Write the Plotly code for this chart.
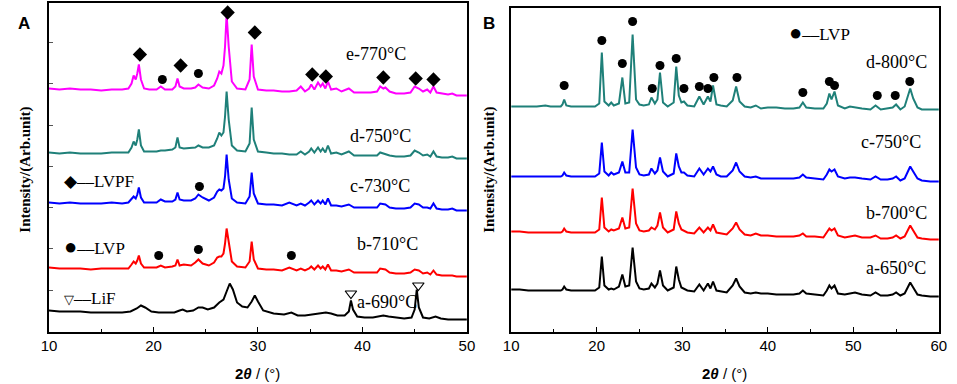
import plotly.graph_objects as go

# ---------------- Panel A data (2theta, intensity in arbitrary units) ----------------
A_X = [10, 11, 12, 13, 14, 15, 16, 17, 17.6, 17.9,
       18.1, 18.3, 18.45, 18.6, 18.8, 19.1, 19.6, 20.3, 20.7, 21.1,
       21.8, 22.1, 22.3, 22.5, 22.9, 23.6, 24.0, 24.3, 24.7, 25.3,
       25.8, 26.1, 26.3, 26.5, 26.7, 26.85, 27.0, 27.2, 27.5, 28.0,
       28.8, 29.2, 29.4, 29.6, 30.0, 30.8, 31.5, 32.3, 33.0, 33.7,
       34.1, 34.5, 34.9, 35.1, 35.4, 35.75, 36.0, 36.2, 36.45, 36.7,
       37.0, 37.5, 38.0, 38.7, 39.2, 40.0, 40.8, 41.4, 41.7, 42.0,
       42.2, 42.6, 43.2, 44.0, 44.6, 45.0, 45.4, 45.8, 46.2, 46.5,
       46.8, 47.1, 47.6, 48.2, 48.6, 49.0, 49.5, 50]

A_E_770 = [243, 242, 243, 242, 242, 241, 242, 242, 243, 248,
           256, 252, 258, 267, 252, 243, 242, 242, 245, 242,
           242, 245, 253, 245, 243, 243, 244, 247, 244, 243,
           246, 253, 260, 258, 266, 285, 317, 285, 250, 243,
           242, 252, 287, 255, 242, 241, 241, 240, 240, 241,
           245, 240, 243, 247, 242, 249, 245, 248, 243, 250,
           242, 243, 240, 243, 239, 239, 239, 240, 245, 243,
           244, 240, 238, 238, 239, 245, 243, 240, 242, 239,
           245, 239, 238, 237, 238, 236, 236, 236]

A_D_750 = [179, 178, 179, 178, 178, 178, 179, 179, 179, 184,
           190, 186, 192, 202, 186, 180, 180, 180, 181, 181,
           182, 184, 194, 184, 183, 184, 184, 186, 184, 184,
           186, 193, 199, 196, 199, 215, 240, 212, 186, 181,
           180, 188, 224, 192, 180, 179, 178, 178, 177, 177,
           180, 177, 180, 183, 179, 184, 180, 183, 179, 186,
           178, 179, 177, 180, 176, 176, 176, 176, 179, 178,
           178, 176, 175, 175, 176, 181, 179, 176, 177, 175,
           180, 175, 174, 174, 175, 173, 173, 173]

A_C_730 = [129, 128, 129, 128, 128, 128, 129, 128, 129, 133,
           135, 133, 137, 144, 134, 129, 129, 129, 132, 130,
           130, 132, 139, 132, 131, 131, 133, 137, 134, 131,
           134, 140, 142, 141, 143, 155, 177, 152, 133, 129,
           128, 135, 159, 138, 128, 127, 127, 126, 129, 126,
           128, 126, 129, 131, 127, 131, 128, 131, 127, 133,
           126, 126, 125, 127, 124, 124, 124, 124, 128, 127,
           127, 124, 123, 123, 124, 128, 127, 124, 124, 123,
           128, 123, 122, 122, 123, 121, 121, 121]

A_B_710 = [64, 63, 63, 63, 62, 63, 63, 63, 63, 67,
           70, 68, 71, 76, 68, 64, 64, 64, 66, 64,
           65, 66, 72, 66, 67, 66, 69, 72, 68, 66,
           69, 74, 75, 75, 78, 88, 103, 88, 70, 65,
           64, 70, 90, 72, 63, 62, 62, 61, 64, 61,
           63, 61, 63, 65, 62, 66, 63, 65, 62, 67,
           61, 61, 60, 62, 59, 59, 59, 59, 63, 62,
           62, 59, 58, 58, 59, 62, 61, 58, 59, 57,
           61, 57, 56, 56, 56, 55, 55, 55]

A_A_X = [10, 11, 12, 13, 14, 15, 16, 17, 17.8, 18.4,
         18.8, 19.2, 19.8, 20.5, 21.2, 22.0, 22.5, 22.8, 23.2, 23.8,
         24.3, 24.7, 25.2, 25.8, 26.3, 26.7, 27.0, 27.3, 27.6, 28.0,
         28.5, 29.0, 29.4, 29.7, 30.0, 30.5, 31.5, 32.5, 33.2, 33.8,
         34.5, 35.3, 36.0, 36.5, 37.0, 37.6, 38.3, 38.7, 38.9, 39.1,
         39.5, 40.2, 41.0, 41.6, 42.0, 42.5, 43.2, 44.0, 44.7, 45.0,
         45.2, 45.4, 45.8, 46.4, 47.0, 47.5, 48.2, 49.0, 49.5, 50]
A_A_690 = [21, 20, 20, 20, 19, 19, 19, 19, 20, 23,
           26, 24, 20, 19, 19, 19, 21, 22, 20, 21,
           24, 24, 22, 24, 29, 32, 40, 48, 42, 29,
           25, 24, 30, 36, 30, 21, 18, 17, 19, 16,
           16, 17, 18, 19, 18, 16, 16, 20, 31, 22,
           15, 14, 14, 15, 16, 15, 14, 13, 14, 22,
           42, 24, 14, 13, 15, 13, 12, 12, 12, 12]

# markers in panel A
A_LVPF_X = [18.7, 22.6, 27.1, 29.7, 35.2, 36.5, 42.0, 45.1, 46.8]
A_LVPF_Y = [277, 266, 319, 299, 257, 255, 254, 253, 252]
A_LVP_X = [20.85, 24.3, 24.4, 20.5, 24.3, 33.2]
A_LVP_Y = [252, 258, 145, 76, 82, 76]
A_LIF_X = [38.9, 45.35]
A_LIF_Y = [38, 46]

# ---------------- Panel B data ----------------
B_X = [10, 11, 12, 13, 14, 14.6, 15.2, 15.8, 16.0, 16.2,
       16.45, 17, 18, 19, 19.8, 20.3, 20.6, 20.9, 21.4, 21.7,
       22.0, 22.6, 23.0, 23.35, 23.8, 24.2, 24.6, 25.0, 25.5, 26.1,
       26.4, 26.8, 27.1, 27.4, 27.75, 28.3, 29.0, 29.3, 29.6, 29.9,
       30.2, 30.6, 31.4, 32.0, 32.5, 33.0, 33.3, 33.6, 34.0, 34.5,
       35.2, 35.9, 36.3, 36.7, 37.3, 38.0, 38.6, 39.2, 40.0, 41.0,
       42.0, 43.0, 43.7, 44.1, 44.5, 45.5, 46.5, 46.9, 47.2, 47.45,
       47.8, 48.2, 49.0, 49.6, 50.2, 51.0, 52.0, 52.6, 53.2, 54.0,
       54.6, 55.0, 55.5, 56.0, 56.35, 56.65, 57.0, 57.5, 58.0, 59.0, 60]

B_D_800 = [225, 225, 225, 225, 226, 225, 225, 225, 227, 232,
           226, 225, 225, 225, 225, 228, 279, 230, 226, 229,
           226, 228, 254, 228, 229, 297, 232, 227, 226, 227,
           234, 228, 232, 259, 229, 225, 229, 265, 236, 229,
           230, 226, 225, 235, 227, 235, 230, 246, 227, 226,
           225, 231, 245, 230, 225, 224, 226, 223, 224, 224,
           223, 223, 224, 229, 224, 223, 223, 228, 238, 232,
           240, 226, 223, 225, 224, 223, 222, 226, 222, 223,
           224, 227, 222, 225, 236, 243, 233, 224, 222, 222, 222]

B_C_750 = [155, 155, 155, 155, 155, 155, 155, 155, 156, 159,
           156, 155, 155, 155, 155, 158, 189, 160, 156, 159,
           157, 159, 170, 159, 159, 202, 164, 157, 156, 157,
           163, 158, 161, 174, 160, 155, 158, 178, 165, 159,
           159, 156, 155, 163, 157, 163, 160, 165, 157, 155,
           155, 161, 169, 160, 155, 154, 155, 153, 153, 153,
           153, 153, 154, 157, 154, 153, 152, 157, 162, 160,
           162, 155, 153, 154, 154, 153, 152, 155, 152, 152,
           153, 155, 151, 153, 160, 165, 160, 153, 151, 150, 150]

B_B_700 = [100, 100, 99, 99, 99, 99, 99, 99, 100, 103,
           100, 99, 99, 99, 99, 102, 134, 104, 100, 102,
           101, 103, 114, 103, 104, 143, 108, 101, 100, 101,
           104, 102, 106, 119, 104, 99, 102, 120, 108, 102,
           101, 99, 98, 104, 99, 104, 101, 107, 99, 98,
           97, 103, 109, 102, 97, 96, 98, 96, 96, 95,
           95, 95, 96, 98, 95, 95, 94, 99, 103, 101,
           103, 96, 94, 95, 96, 94, 94, 96, 93, 93,
           94, 96, 93, 95, 101, 106, 101, 94, 93, 92, 92]

B_A_650 = [42, 42, 41, 41, 41, 41, 41, 41, 42, 45,
           42, 41, 41, 41, 41, 44, 75, 46, 42, 43,
           42, 45, 57, 45, 46, 84, 50, 43, 42, 43,
           48, 44, 48, 61, 46, 41, 44, 65, 52, 44,
           43, 41, 40, 47, 41, 48, 43, 50, 41, 40,
           39, 46, 53, 45, 39, 38, 39, 38, 38, 37,
           37, 37, 38, 41, 38, 37, 36, 41, 46, 43,
           46, 38, 37, 38, 39, 37, 36, 39, 36, 36,
           37, 39, 36, 38, 44, 49, 44, 37, 36, 35, 35]

B_LVP_X = [16.2, 20.6, 23.0, 24.2, 26.5, 27.4, 29.3, 30.2, 32.0, 33.0,
           33.7, 36.4, 44.1, 47.2, 47.8, 52.8, 54.9, 56.6]
B_LVP_Y = [246, 291, 268, 310, 243, 266, 273, 243, 245, 243,
           254, 254, 239, 250, 246, 236, 236, 250]

TEAL = "#1f8079"
SERIF = "Liberation Serif, Times New Roman, serif"
SANS = "Liberation Sans, Arial, sans-serif"

fig = go.Figure()

def line(x, y, color, xa, ya):
    fig.add_trace(go.Scatter(x=x, y=y, mode="lines", line=dict(color=color, width=2),
                             xaxis=xa, yaxis=ya, showlegend=False, hoverinfo="skip"))

line(A_X, A_E_770, "#ff00ff", "x", "y")
line(A_X, A_D_750, TEAL, "x", "y")
line(A_X, A_C_730, "#0000ff", "x", "y")
line(A_X, A_B_710, "#ff0000", "x", "y")
line(A_A_X, A_A_690, "#000000", "x", "y")

line(B_X, B_D_800, TEAL, "x2", "y2")
line(B_X, B_C_750, "#0000ff", "x2", "y2")
line(B_X, B_B_700, "#ff0000", "x2", "y2")
line(B_X, B_A_650, "#000000", "x2", "y2")

fig.add_trace(go.Scatter(x=A_LVPF_X, y=A_LVPF_Y, mode="markers",
                         marker=dict(symbol="diamond", size=11, color="black"),
                         xaxis="x", yaxis="y", showlegend=False))
fig.add_trace(go.Scatter(x=A_LVP_X, y=A_LVP_Y, mode="markers",
                         marker=dict(symbol="circle", size=9, color="black"),
                         xaxis="x", yaxis="y", showlegend=False))
fig.add_trace(go.Scatter(x=A_LIF_X, y=A_LIF_Y, mode="markers",
                         marker=dict(symbol="triangle-down-open", size=10, color="black",
                                     line=dict(width=1.2, color="black")),
                         xaxis="x", yaxis="y", showlegend=False))
fig.add_trace(go.Scatter(x=B_LVP_X, y=B_LVP_Y, mode="markers",
                         marker=dict(symbol="circle", size=9, color="black"),
                         xaxis="x2", yaxis="y2", showlegend=False))

W, H = 957, 384
def px(xp):
    return xp / W
def py(yp):
    return 1 - yp / H

axis_common = dict(showline=True, linecolor="black", linewidth=1.5, mirror=True,
                   showgrid=False, zeroline=False)

fig.update_layout(
    width=W, height=H, margin=dict(l=0, r=0, t=0, b=0),
    paper_bgcolor="white", plot_bgcolor="white",
    xaxis=dict(domain=[px(41.7), px(466.7)], range=[10, 50], dtick=10, tick0=10,
               ticks="inside", ticklen=5, tickcolor="black",
               minor=dict(ticks="inside", dtick=5, tick0=10, ticklen=3, tickcolor="black"),
               tickfont=dict(family=SANS, size=15, color="black"), anchor="y", **axis_common),
    yaxis=dict(domain=[py(331.5), py(3.3)], range=[0, 328.2], dtick=41.3, tick0=0,
               ticks="inside", ticklen=4, tickcolor="#555", showticklabels=False,
               anchor="x", **axis_common),
    xaxis2=dict(domain=[px(511.7), px(946.7)], range=[10, 60], dtick=10, tick0=10,
                ticks="inside", ticklen=5, tickcolor="black",
                minor=dict(ticks="inside", dtick=5, tick0=10, ticklen=3, tickcolor="black"),
                tickfont=dict(family=SANS, size=15, color="black"), anchor="y2", **axis_common),
    yaxis2=dict(domain=[py(331.5), py(8.3)], range=[0, 323.2], ticks="",
                showticklabels=False, anchor="x2", **axis_common),
)

ann = []
def label(text, x, y, xref, yref, size=18, family=SERIF, xanchor="center", **kw):
    ann.append(dict(text=text, x=x, y=y, xref=xref, yref=yref, showarrow=False,
                    xanchor=xanchor, yanchor="middle",
                    font=dict(family=family, size=size, color="black"), **kw))

DOT = "<span style='font-size:22px'>●</span>"

# Panel A sample labels
label("e-770°C", 41.3, 277, "x", "y")
label("d-750°C", 41.7, 195, "x", "y")
label("c-730°C", 41.7, 145, "x", "y")
label("b-710°C", 42.4, 87, "x", "y")
label("a-690°C", 42.4, 30, "x", "y")
label("◆––LVPF", 11.2, 150, "x", "y", size=17, xanchor="left")
label(DOT + "––LVP", 11.2, 85, "x", "y", size=17, xanchor="left")
label("<span style='font-size:13px'>▽</span>––LiF", 11.2, 33, "x", "y", size=17, xanchor="left")

# Panel B sample labels
label(DOT + "––LVP", 42.3, 299, "x2", "y2", size=17, xanchor="left")
label("d-800°C", 55.0, 270, "x2", "y2")
label("c-750°C", 54.4, 190, "x2", "y2")
label("b-700°C", 55.0, 119, "x2", "y2")
label("a-650°C", 55.0, 64, "x2", "y2")

# panel letters
label("<b>A</b>", px(16), py(23), "paper", "paper", size=17, family=SANS)
label("<b>B</b>", px(489), py(23), "paper", "paper", size=17, family=SANS)

# axis titles
xt = "<b>2</b><b><i>θ</i></b> / (°)"
label(xt, px(254), py(373), "paper", "paper", size=15, family=SANS)
label(xt, px(729), py(373), "paper", "paper", size=15, family=SANS)
label("<b>Intensity/(Arb.unit)</b>", px(18), py(170), "paper", "paper", size=15, textangle=-90)
label("<b>Intensity/(Arb.unit)</b>", px(490), py(170), "paper", "paper", size=15, textangle=-90)

fig.update_layout(annotations=ann)
fig.write_html("out.html", config={"displayModeBar": False},
               post_script="document.body.style.margin='0';document.body.style.overflow='hidden';")
